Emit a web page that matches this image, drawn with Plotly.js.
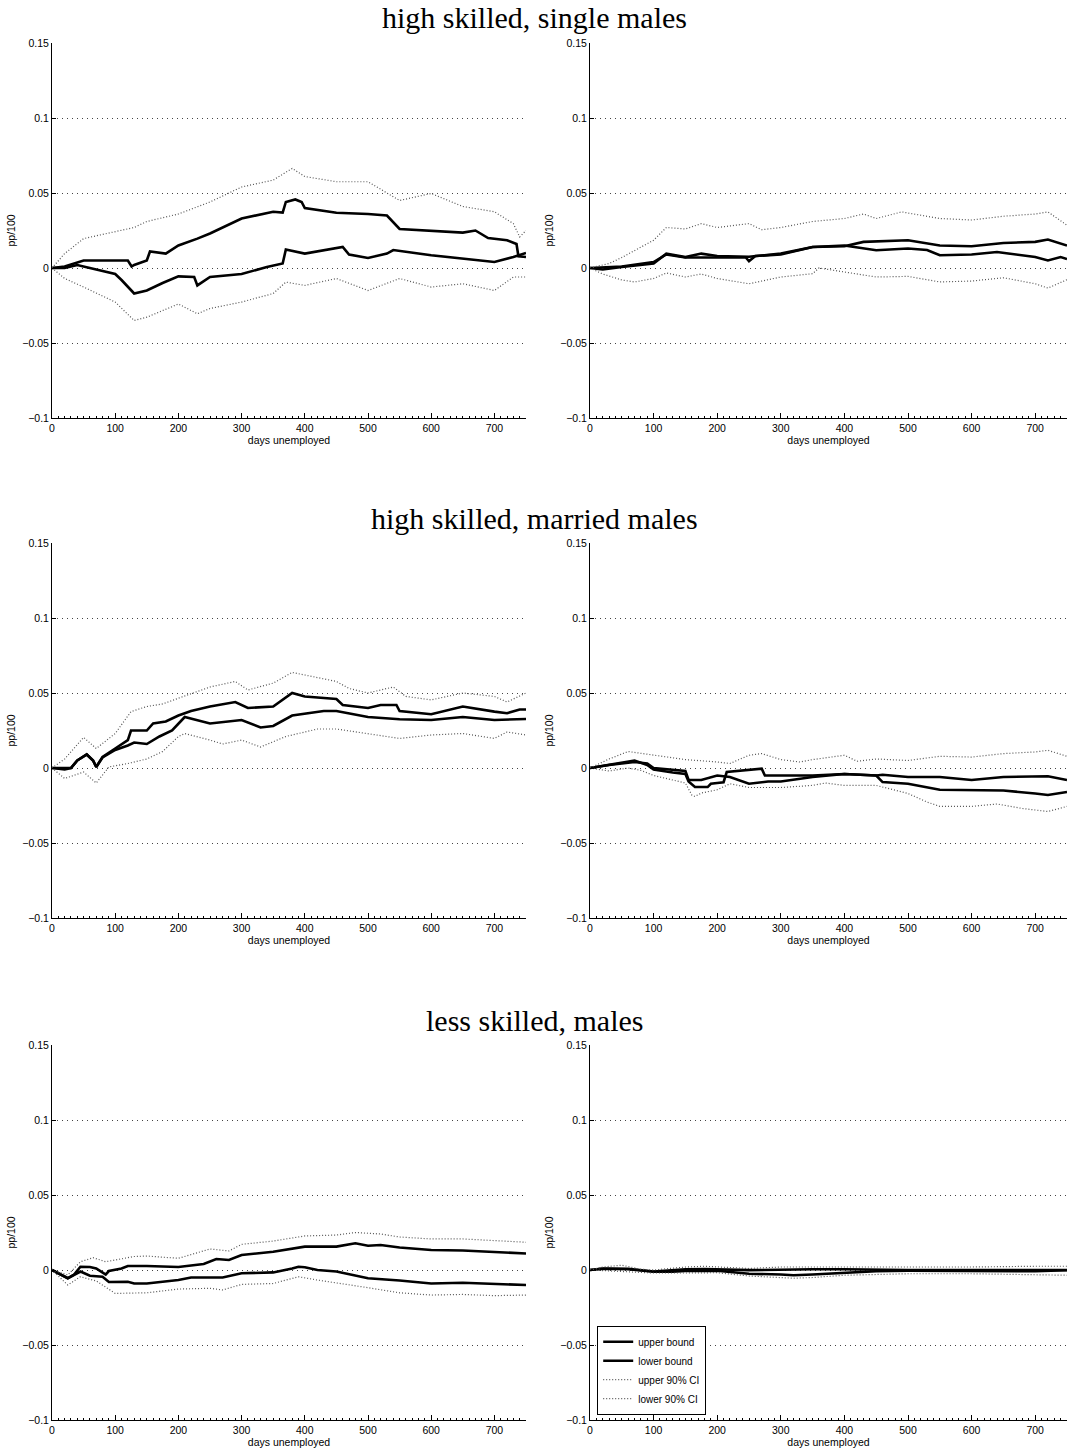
<!DOCTYPE html>
<html>
<head>
<meta charset="utf-8">
<script src="https://cdn.plot.ly/plotly-3.0.1.min.js"></script>
<style>html,body{margin:0;padding:0;background:#fff;} #chart{width:1069px;height:1452px;}</style>
</head>
<body>
<div id="chart"></div>
<script>
// ---------- data ----------
const rowTitles = ["high skilled, single males", "high skilled, married males", "less skilled, males"];
const seriesNames = ["upper bound", "lower bound", "upper 90% CI", "lower 90% CI"];
const xAxisTitle = "days unemployed";
const yAxisTitle = "pp/100";

// Panel 1: high skilled, single males (left)
const p1_ub_x = [0,20,50,80,100,120,126,130,150,155,180,200,230,250,300,350,365,370,385,395,400,450,500,530,550,600,650,670,690,720,735,738,750];
const p1_ub_y = [0,0.001,0.005,0.005,0.005,0.005,0.001,0.002,0.005,0.011,0.0096,0.015,0.0196,0.023,0.033,0.0375,0.037,0.044,0.0457,0.044,0.040,0.0368,0.036,0.035,0.026,0.025,0.0236,0.025,0.020,0.0185,0.016,0.0078,0.0073];
const p1_lb_x = [0,20,40,60,80,100,110,125,130,150,175,200,225,230,250,300,340,365,370,400,450,460,470,500,530,540,600,650,700,730,750];
const p1_lb_y = [0,0,0.002,0,-0.002,-0.004,-0.008,-0.015,-0.017,-0.015,-0.010,-0.0056,-0.006,-0.0116,-0.006,-0.004,0.0007,0.003,0.0123,0.0096,0.013,0.014,0.009,0.0067,0.0096,0.012,0.0085,0.006,0.004,0.0073,0.010];
const p1_uc_x = [0,20,50,100,130,150,200,250,300,350,380,400,450,500,550,600,650,700,730,740,750];
const p1_uc_y = [0,0.0096,0.0196,0.024,0.027,0.031,0.036,0.044,0.054,0.0586,0.0664,0.061,0.0575,0.0575,0.045,0.0497,0.041,0.0375,0.0296,0.0207,0.025];
const p1_lc_x = [0,20,50,100,130,150,200,230,250,300,350,370,400,450,500,550,600,650,700,730,750];
const p1_lc_y = [0,-0.007,-0.0127,-0.0227,-0.035,-0.0328,-0.024,-0.0305,-0.027,-0.0227,-0.017,-0.0094,-0.0116,-0.007,-0.015,-0.007,-0.0127,-0.0105,-0.015,-0.006,-0.006];

// Panel 2: high skilled, single males (right)
const p2_ub_x = [0,20,50,100,120,150,175,200,250,300,350,400,430,500,550,600,650,700,720,750];
const p2_ub_y = [0,-0.001,0.0007,0.003,0.0096,0.0073,0.0096,0.008,0.0075,0.0096,0.014,0.0145,0.0174,0.0185,0.015,0.0145,0.0167,0.0174,0.019,0.015];
const p2_lb_x = [0,50,100,120,150,200,245,250,260,300,350,400,450,500,530,550,600,640,700,720,740,750];
const p2_lb_y = [0,0.001,0.004,0.009,0.007,0.007,0.007,0.0045,0.008,0.009,0.014,0.015,0.0118,0.013,0.012,0.0085,0.009,0.0107,0.0073,0.005,0.0073,0.006];
const p2_uc_x = [0,30,50,100,120,150,175,200,250,270,300,350,400,430,450,490,550,600,650,700,720,750];
const p2_uc_y = [0,0.003,0.007,0.0185,0.027,0.026,0.0296,0.027,0.0296,0.0255,0.027,0.031,0.033,0.036,0.033,0.0374,0.033,0.032,0.0345,0.036,0.0374,0.0285];
const p2_lc_x = [0,20,50,70,100,120,150,175,200,250,300,350,360,400,450,500,550,600,650,700,720,750];
const p2_lc_y = [0,-0.004,-0.008,-0.0093,-0.007,-0.0033,-0.006,-0.004,-0.007,-0.0105,-0.006,-0.0038,0,-0.0027,-0.006,-0.0056,-0.0093,-0.0087,-0.0065,-0.0105,-0.0134,-0.0078];

// Panel 3: high skilled, married males (left)
const p3_ub_x = [0,20,30,40,55,65,70,80,100,120,125,150,160,180,200,220,250,290,310,350,380,400,450,460,500,520,545,550,600,650,700,720,740,750];
const p3_ub_y = [0,-0.001,0,0.005,0.009,0.005,0.0007,0.0074,0.013,0.0186,0.025,0.025,0.0297,0.031,0.035,0.038,0.041,0.044,0.040,0.041,0.050,0.0477,0.046,0.042,0.040,0.042,0.042,0.038,0.0358,0.041,0.0376,0.0365,0.039,0.039];
const p3_lb_x = [0,30,40,55,65,70,80,100,120,130,150,170,190,210,250,300,330,350,380,400,430,450,500,550,600,650,700,750];
const p3_lb_y = [0,0,0.005,0.009,0.005,0.0007,0.007,0.012,0.015,0.017,0.016,0.021,0.025,0.034,0.0297,0.032,0.027,0.028,0.035,0.036,0.038,0.038,0.034,0.0325,0.032,0.034,0.032,0.0327];
const p3_uc_x = [0,20,50,70,100,125,150,175,200,250,290,310,350,380,400,450,470,500,540,560,600,650,700,720,750];
const p3_uc_y = [0,0.006,0.0204,0.013,0.023,0.0376,0.041,0.0427,0.0465,0.054,0.0577,0.052,0.0566,0.0637,0.062,0.0577,0.053,0.050,0.054,0.0477,0.0454,0.050,0.0477,0.044,0.050];
const p3_lc_x = [0,20,50,70,90,120,150,175,200,210,250,270,300,330,370,400,420,450,500,550,600,650,700,720,750];
const p3_lc_y = [0,-0.007,-0.0027,-0.010,0.0007,0.003,0.006,0.011,0.021,0.023,0.0186,0.016,0.0186,0.014,0.021,0.024,0.026,0.026,0.023,0.0197,0.022,0.023,0.0197,0.024,0.022];

// Panel 4: high skilled, married males (right)
const p4_ub_x = [0,30,70,90,100,130,150,155,165,185,190,200,210,215,250,270,275,300,350,400,450,460,500,550,600,650,700,720,750];
const p4_ub_y = [0,0.002,0.005,0.002,-0.001,-0.003,-0.004,-0.009,-0.0127,-0.0127,-0.0105,-0.010,-0.0095,-0.0027,-0.001,-0.0005,-0.005,-0.005,-0.005,-0.004,-0.005,-0.0045,-0.006,-0.006,-0.008,-0.006,-0.006,-0.0055,-0.008];
const p4_lb_x = [0,30,70,90,100,150,155,175,200,220,250,280,300,350,400,450,460,500,550,600,650,700,720,750];
const p4_lb_y = [0,0.002,0.004,0.003,0,-0.002,-0.008,-0.008,-0.005,-0.006,-0.0105,-0.009,-0.009,-0.006,-0.004,-0.005,-0.0094,-0.0105,-0.0145,-0.015,-0.015,-0.017,-0.018,-0.016];
const p4_uc_x = [0,30,60,100,150,200,220,250,270,300,330,350,400,420,450,500,550,600,650,700,720,750];
const p4_uc_y = [0,0.006,0.011,0.0085,0.0056,0.004,0.003,0.0085,0.0096,0.0056,0.004,0.0056,0.0085,0.0045,0.006,0.005,0.0078,0.0073,0.0096,0.0107,0.0118,0.0078];
const p4_lc_x = [0,30,60,80,100,130,150,160,165,175,200,220,250,300,350,370,400,450,500,530,550,600,640,680,720,750];
const p4_lc_y = [0,-0.002,0,-0.0016,-0.005,-0.008,-0.010,-0.018,-0.019,-0.0167,-0.0145,-0.0105,-0.013,-0.013,-0.0116,-0.010,-0.0116,-0.0116,-0.017,-0.0227,-0.0256,-0.0256,-0.024,-0.027,-0.029,-0.0256];

// Panel 5: less skilled, males (left)
const p5_ub_x = [0,10,25,35,45,60,70,85,90,110,120,150,200,240,260,280,300,350,400,450,480,500,520,550,600,650,700,750];
const p5_ub_y = [0,-0.002,-0.0055,-0.003,0.0022,0.002,0.001,-0.003,-0.0007,0.001,0.0027,0.0027,0.002,0.004,0.0073,0.0067,0.010,0.0122,0.0156,0.0156,0.0178,0.0162,0.0167,0.015,0.0133,0.013,0.0118,0.011];
const p5_lb_x = [0,25,45,60,80,90,120,130,150,200,220,270,300,350,380,390,400,420,450,480,500,550,600,650,700,750];
const p5_lb_y = [0,-0.0055,-0.001,-0.0038,-0.0045,-0.008,-0.0078,-0.009,-0.009,-0.0067,-0.005,-0.005,-0.0022,-0.0016,0.001,0.0022,0.0018,0,-0.001,-0.004,-0.0055,-0.007,-0.009,-0.0085,-0.0095,-0.010];
const p5_uc_x = [0,25,45,65,85,100,130,150,200,250,280,300,350,400,450,480,520,550,600,650,700,750];
const p5_uc_y = [0,-0.0033,0.0055,0.0082,0.0055,0.0067,0.009,0.0093,0.0078,0.014,0.0127,0.0171,0.0193,0.0227,0.0233,0.025,0.024,0.022,0.0207,0.0207,0.0196,0.0185];
const p5_lc_x = [0,25,45,70,100,150,200,250,270,300,350,390,420,450,500,550,600,650,700,750];
const p5_lc_y = [0,-0.010,-0.0045,-0.0073,-0.0156,-0.0152,-0.0127,-0.0122,-0.0133,-0.0096,-0.009,-0.0045,-0.0067,-0.0085,-0.0118,-0.0152,-0.0167,-0.0163,-0.0171,-0.0167];

// Panel 6: less skilled, males (right)
const p6_ub_x = [0,20,60,100,150,180,250,300,350,400,450,500,600,700,750];
const p6_ub_y = [0,0.001,0.0008,-0.001,0.0005,0.0007,-0.0001,0.0003,0.0005,0.0005,0.0002,0,0,-0.0003,0];
const p6_lb_x = [0,20,60,100,130,150,200,250,300,320,350,400,450,500,600,700,750];
const p6_lb_y = [0,0.0008,0.0005,-0.0012,-0.0012,-0.0006,-0.0005,-0.0025,-0.003,-0.0035,-0.003,-0.0018,-0.0008,-0.0005,-0.0005,-0.0008,-0.0002];
const p6_uc_x = [0,20,50,80,100,150,180,250,300,320,400,450,500,600,700,750];
const p6_uc_y = [0,0.002,0.0032,0.0005,0,0.002,0.0025,0.001,0.002,0.002,0.002,0.0015,0.002,0.002,0.0025,0.0025];
const p6_lc_x = [0,20,50,100,150,200,250,300,320,350,400,450,500,600,700,750];
const p6_lc_y = [0,-0.0005,-0.001,-0.002,-0.002,-0.0018,-0.004,-0.005,-0.0055,-0.005,-0.0035,-0.003,-0.0025,-0.0025,-0.003,-0.0035];

const xTickVals = [0,100,200,300,400,500,600,700];
const yTickVals = [-0.1,-0.05,0,0.05,0.1,0.15];
const yTickText = ["\u22120.1","\u22120.05","0","0.05","0.1","0.15"];

// ---------- build ----------
const panels = [
  [[p1_ub_x,p1_ub_y],[p1_lb_x,p1_lb_y],[p1_uc_x,p1_uc_y],[p1_lc_x,p1_lc_y]],
  [[p2_ub_x,p2_ub_y],[p2_lb_x,p2_lb_y],[p2_uc_x,p2_uc_y],[p2_lc_x,p2_lc_y]],
  [[p3_ub_x,p3_ub_y],[p3_lb_x,p3_lb_y],[p3_uc_x,p3_uc_y],[p3_lc_x,p3_lc_y]],
  [[p4_ub_x,p4_ub_y],[p4_lb_x,p4_lb_y],[p4_uc_x,p4_uc_y],[p4_lc_x,p4_lc_y]],
  [[p5_ub_x,p5_ub_y],[p5_lb_x,p5_lb_y],[p5_uc_x,p5_uc_y],[p5_lc_x,p5_lc_y]],
  [[p6_ub_x,p6_ub_y],[p6_lb_x,p6_lb_y],[p6_uc_x,p6_uc_y],[p6_lc_x,p6_lc_y]]
];

const W = 1069, H = 1452;
const colDom = [[52/W, 526/W],[590/W, 1067/W]];
const rowPx = [[43,418],[543,918],[1045,1420]];
const rowDom = rowPx.map(r => [1 - r[1]/H, 1 - r[0]/H]);

const tickFont = {family: "Liberation Sans, Arial, sans-serif", size: 10.5, color: "#000"};
const traces = [];
const layout = {
  width: W, height: H,
  margin: {l:0, r:0, t:0, b:0},
  paper_bgcolor: "#fff", plot_bgcolor: "#fff",
  showlegend: true,
  legend: {
    x: 597/W, y: 1 - 1415/H, xanchor: "left", yanchor: "bottom",
    bgcolor: "#fff", bordercolor: "#000", borderwidth: 1.2,
    font: {family: "Liberation Sans, Arial, sans-serif", size: 10, color: "#000"},
    tracegroupgap: 0, itemwidth: 30
  },
  annotations: [],
  font: {family: "Liberation Sans, Arial, sans-serif", color: "#000"}
};

panels.forEach((series, i) => {
  const row = Math.floor(i/2), col = i % 2;
  const n = i + 1;
  const xa = "x" + (n === 1 ? "" : n), ya = "y" + (n === 1 ? "" : n);
  series.forEach((s, k) => {
    const solid = k < 2;
    traces.push({
      type: "scatter", mode: "lines",
      x: s[0], y: s[1],
      xaxis: xa, yaxis: ya,
      name: seriesNames[k],
      showlegend: i === 5,
      line: solid ? {color: "#000", width: 2.6} : {color: "#555", width: 1.2, dash: "1px,2px"},
      hoverinfo: "skip"
    });
  });
  layout["xaxis" + (n === 1 ? "" : n)] = {
    domain: colDom[col], anchor: ya, range: [0, 750],
    tickvals: xTickVals, ticks: "inside", ticklen: 5, tickwidth: 1, tickcolor: "#000",
    minor: {dtick: 10, tick0: 0, ticks: "inside", ticklen: 2, tickcolor: "#000", showgrid: false},
    showline: true, linecolor: "#000", linewidth: 1, mirror: false,
    showgrid: false, zeroline: false, tickfont: tickFont,
    title: {text: xAxisTitle, font: tickFont, standoff: 2}
  };
  layout["yaxis" + (n === 1 ? "" : n)] = {
    domain: rowDom[row], anchor: xa, range: [-0.1, 0.15],
    tickvals: yTickVals, ticktext: yTickText, ticks: "inside", ticklen: 4, tickwidth: 1, tickcolor: "#000",
    showline: true, linecolor: "#000", linewidth: 1, mirror: false,
    showgrid: true, gridcolor: "#444", griddash: "1px,4px", gridwidth: 1,
    zeroline: false, tickfont: tickFont,
    title: {text: yAxisTitle, font: tickFont, standoff: 4}
  };
});

rowTitles.forEach((t, r) => {
  layout.annotations.push({
    text: t, xref: "paper", yref: "paper", x: 0.5, y: 1 - (rowPx[r][0] - 25)/H,
    xanchor: "center", yanchor: "middle", showarrow: false,
    font: {family: "Liberation Serif, DejaVu Serif, serif", size: 30, color: "#000"}
  });
});

Plotly.newPlot("chart", traces, layout, {staticPlot: true, displayModeBar: false});
</script>
</body>
</html>
